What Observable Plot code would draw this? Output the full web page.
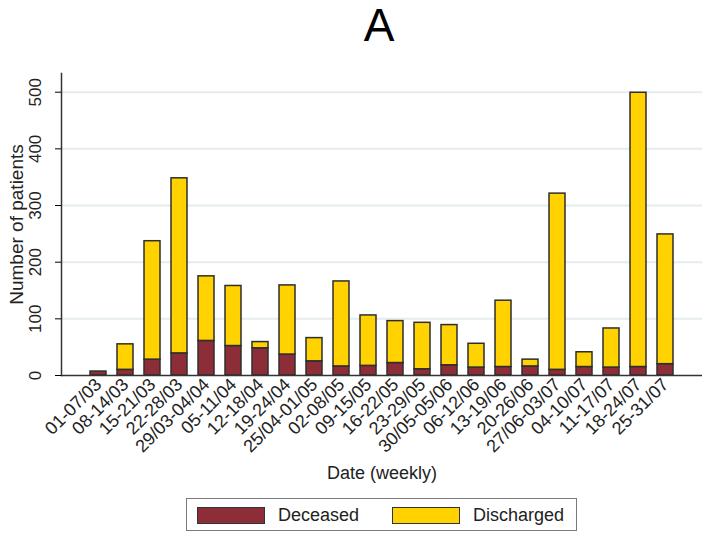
<!DOCTYPE html>
<html><head><meta charset="utf-8">
<script src="https://cdn.jsdelivr.net/npm/d3@7"></script>
<script src="https://cdn.jsdelivr.net/npm/@observablehq/plot@0.6"></script>
<style>
body{margin:0;background:#fff;font-family:"Liberation Sans",Arial,sans-serif;}
#wrap{position:relative;width:702px;height:536px;overflow:hidden;}
#title{position:absolute;left:0;width:758px;top:0;text-align:center;font-size:46px;line-height:50px;color:#000;}
#chart{position:absolute;left:0;top:56px;}
#legend{position:absolute;left:186px;top:498px;width:391px;height:33px;border:1px solid #7a7a7a;box-sizing:border-box;font-size:18px;color:#222;}
.sw{position:absolute;top:8px;width:68px;height:17px;border:1px solid #333;box-sizing:border-box;}
.lt{position:absolute;top:6px;line-height:20px;}
</style></head>
<body>
<div id="wrap">
<div id="title">A</div>
<div id="chart"></div>
<div id="legend">
  <div class="sw" style="left:10px;background:#8c2d38"></div><div class="lt" style="left:91px">Deceased</div>
  <div class="sw" style="left:205px;background:#ffd200"></div><div class="lt" style="left:286px">Discharged</div>
</div>
</div>
<script>
const weeks = ["01-07/03","08-14/03","15-21/03","22-28/03","29/03-04/04","05-11/04","12-18/04","19-24/04","25/04-01/05","02-08/05","09-15/05","16-22/05","23-29/05","30/05-05/06","06-12/06","13-19/06","20-26/06","27/06-03/07","04-10/07","11-17/07","18-24/07","25-31/07"];
const deceased = [7,10,28,39,61,52,48,37,25,16,17,22,11,18,14,15,16,10,15,14,15,20];
const totals = [7,55,237,348,175,158,59,159,66,166,106,96,93,89,56,132,28,321,41,83,499,249];
const discharged = totals.map((t,i)=>t-deceased[i]);
const statuses = ["Deceased","Discharged"];
const statusColors = ["#8c2d38","#ffd200"];
const yTicks = [0,100,200,300,400,500];

const data = [];
weeks.forEach((w,i)=>{
  data.push({week:w,status:"Deceased",value:deceased[i]});
  data.push({week:w,status:"Discharged",value:discharged[i]});
});

const chart = Plot.plot({
  width:702, height:436,
  marginTop:17, marginLeft:61, marginRight:0, marginBottom:117,
  style:{fontFamily:"'Liberation Sans', Arial, sans-serif", background:"white"},
  x:{domain:weeks, paddingInner:0.42, paddingOuter:0.68},
  y:{domain:[0,533]},
  color:{domain:statuses, range:statusColors},
  marks:[
    Plot.gridY(yTicks.filter(d=>d>0),{stroke:"#e4ecee",strokeOpacity:1,strokeWidth:2}),
    Plot.barY(data,{x:"week",y:"value",fill:"status",stroke:"#2e2e2e",strokeWidth:1.5}),
    Plot.ruleY([0],{stroke:"#333",strokeWidth:1.5}),
    Plot.frame({anchor:"left",stroke:"#333",strokeWidth:1.5}),
    Plot.axisX({tickSize:0,tickRotate:-45,tickPadding:6,fontSize:18,fill:"#222",label:"Date (weekly)",labelAnchor:"center",labelOffset:103,labelArrow:"none"}),
    Plot.axisY(yTicks,{tickSize:6,tickRotate:-90,tickPadding:9,fontSize:17,fill:"#222",label:"Number of patients",labelAnchor:"center",labelOffset:52,labelArrow:"none"})
  ]
});
document.getElementById("chart").appendChild(chart);
d3.select(chart).selectAll('g[aria-label="x-axis label"]').attr("font-size",18);
d3.select(chart).selectAll('g[aria-label="y-axis label"]').attr("font-size",19);
d3.select(chart).selectAll('g[aria-label="y-axis tick label"]').each(function(){
  const t = this.getAttribute("transform") || "";
  this.setAttribute("transform", "translate(-6,0) " + t);
});
</script>
</body></html>
